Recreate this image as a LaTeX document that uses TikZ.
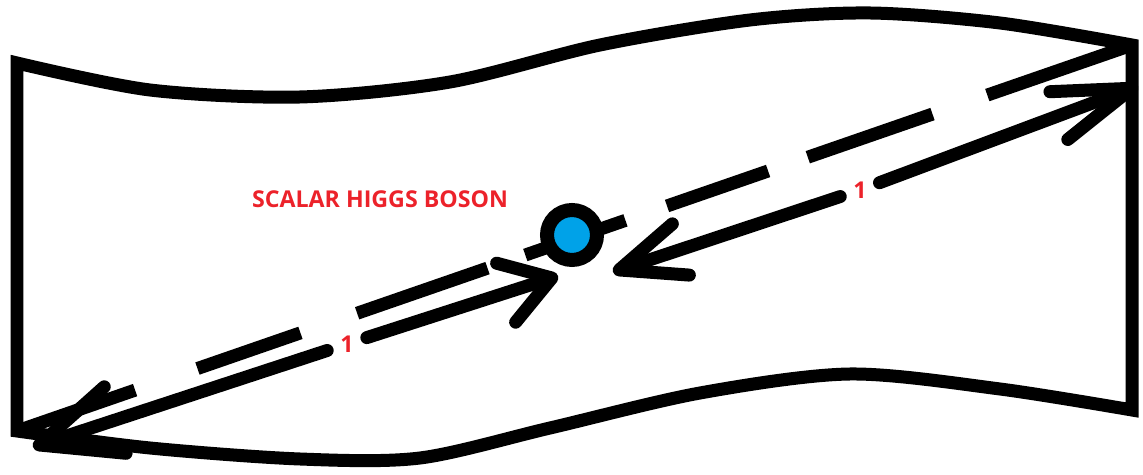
\documentclass[tikz,border=0pt]{standalone}
\usepackage{fontspec}
\setmainfont{Open Sans}
\usetikzlibrary{arrows.meta,calc}
\definecolor{higgsred}{RGB}{236,34,42}
\definecolor{higgsblue}{RGB}{0,162,232}

\begin{document}
\begin{tikzpicture}[x=.02cm,y=-.02cm,
    sheet/.style={line width=.26cm,line join=miter},
    arr/.style={line width=.26cm,line cap=round},
    lbl/.style={text=higgsred,font=\bfseries\fontsize{13.2}{15}\selectfont},
    num/.style={lbl,circle,inner sep=.14cm}]
  \useasboundingbox (0,0) rectangle (1143,475);
  % corners of the sheet
  \coordinate (tl) at (17,63);
  \coordinate (tr) at (1132,45);
  \coordinate (br) at (1132,410);
  \coordinate (bl) at (17,431);
  \draw[sheet] plot[smooth] coordinates {(tl) (150,90) (300,97) (450,82) (600,45) (750,20) (870,13) (1000,23) (tr)}
    -- plot[smooth] coordinates {(br) (1000,389) (850,374) (700,393) (550,428) (420,458) (300,459) (150,448) (bl)}
    -- cycle;
  % diagonal
  \draw[line width=.26cm,dash pattern=on 2.5cm off 1.32cm on 2.18cm off 1.2cm on 2.76cm off .8cm on 2.12cm off .88cm on 2.14cm off .84cm on 2.64cm off 1.16cm on 3.04cm] (bl) -- (tr);
  \node[circle,draw,line width=.28cm,fill=higgsblue,minimum size=1cm] (higgs) at (572,235) {};
  \node[lbl] (title) at (380,199) {SCALAR HIGGS BOSON};
  % arrows
  \coordinate (ltail) at (33,447);
  \coordinate (lhead) at (558,276);
  \coordinate (rhead) at (613,272);
  \coordinate (rtail) at (1138,86);
  \node[num] (n1) at (347,344) {1};
  \node[num] (n2) at (860,190) {1};
  \draw[arr,{Straight Barb[round,length=1.6cm,width=1.4cm]}-] (ltail) -- (n1);
  \draw[arr,-{Straight Barb[round,length=.96cm,width=1.24cm]}] (n1) -- (lhead);
  \draw[arr,{Straight Barb[round,length=1.3cm,width=1.08cm]}-] (rhead) -- (n2);
  \draw[arr,-{Straight Barb[round,length=1.56cm,width=1.02cm]}] (n2) -- (rtail);
\end{tikzpicture}
\end{document}
